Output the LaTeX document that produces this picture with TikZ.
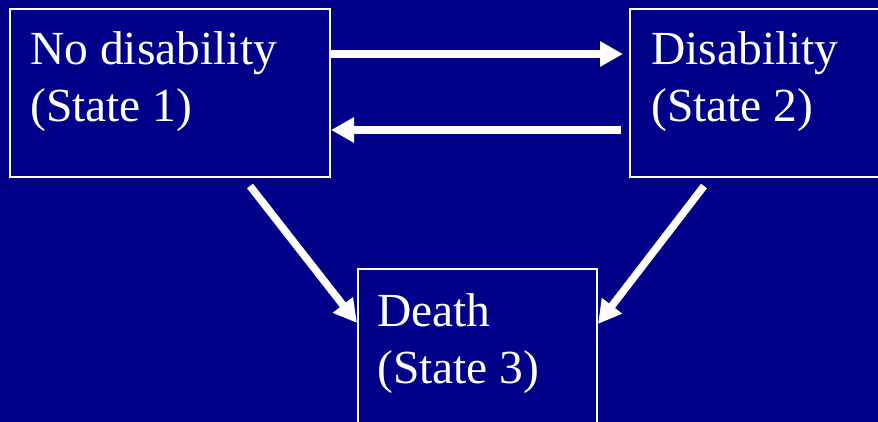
\documentclass[tikz,border=0pt]{standalone}
\usepackage{fontspec}
\setmainfont{Liberation Serif}
\usetikzlibrary{arrows.meta}
\definecolor{bg}{RGB}{0,0,136}
\tikzset{
  box/.style={draw=white, line width=2pt, fill=bg},
  lbl/.style={text=white, anchor=base west, inner sep=0pt, font=\fontsize{47.5}{57}\selectfont},
  arr/.style={draw=white, line width=7.5pt, -{Triangle[length=23pt,width=24pt]}}
}
\begin{document}
\begin{tikzpicture}[x=1pt,y=-1pt]
\useasboundingbox (0,0) rectangle (878,422);
\clip (0,0) rectangle (878,422);
\fill[bg] (0,0) rectangle (878,422);
% boxes
\draw[box] (10,9) rectangle (330,177);
\draw[box] (630,9) rectangle (900,177);
\draw[box] (358,269) rectangle (597,440);
% texts
\node[lbl] (t1a) at (30,65) {No disability};
\node[lbl] (t1b) at (30,122) {(State 1)};
\node[lbl] (t2a) at (651,65) {Disability};
\node[lbl] (t2b) at (651,122) {(State 2)};
\node[lbl] (t3a) at (377,326) {Death};
\node[lbl] (t3b) at (377,383) {(State 3)};
% connector endpoints
\coordinate (a1s) at (331,54);
\coordinate (a1e) at (623,54);
\coordinate (a2s) at (621,130);
\coordinate (a2e) at (331,130);
\coordinate (a3s) at (250,186);
\coordinate (a3e) at (357,323);
\coordinate (a4s) at (704,186);
\coordinate (a4e) at (598,324);
\draw[arr] (a1s) -- (a1e);
\draw[arr] (a2s) -- (a2e);
\draw[arr] (a3s) -- (a3e);
\draw[arr] (a4s) -- (a4e);
\end{tikzpicture}
\end{document}
